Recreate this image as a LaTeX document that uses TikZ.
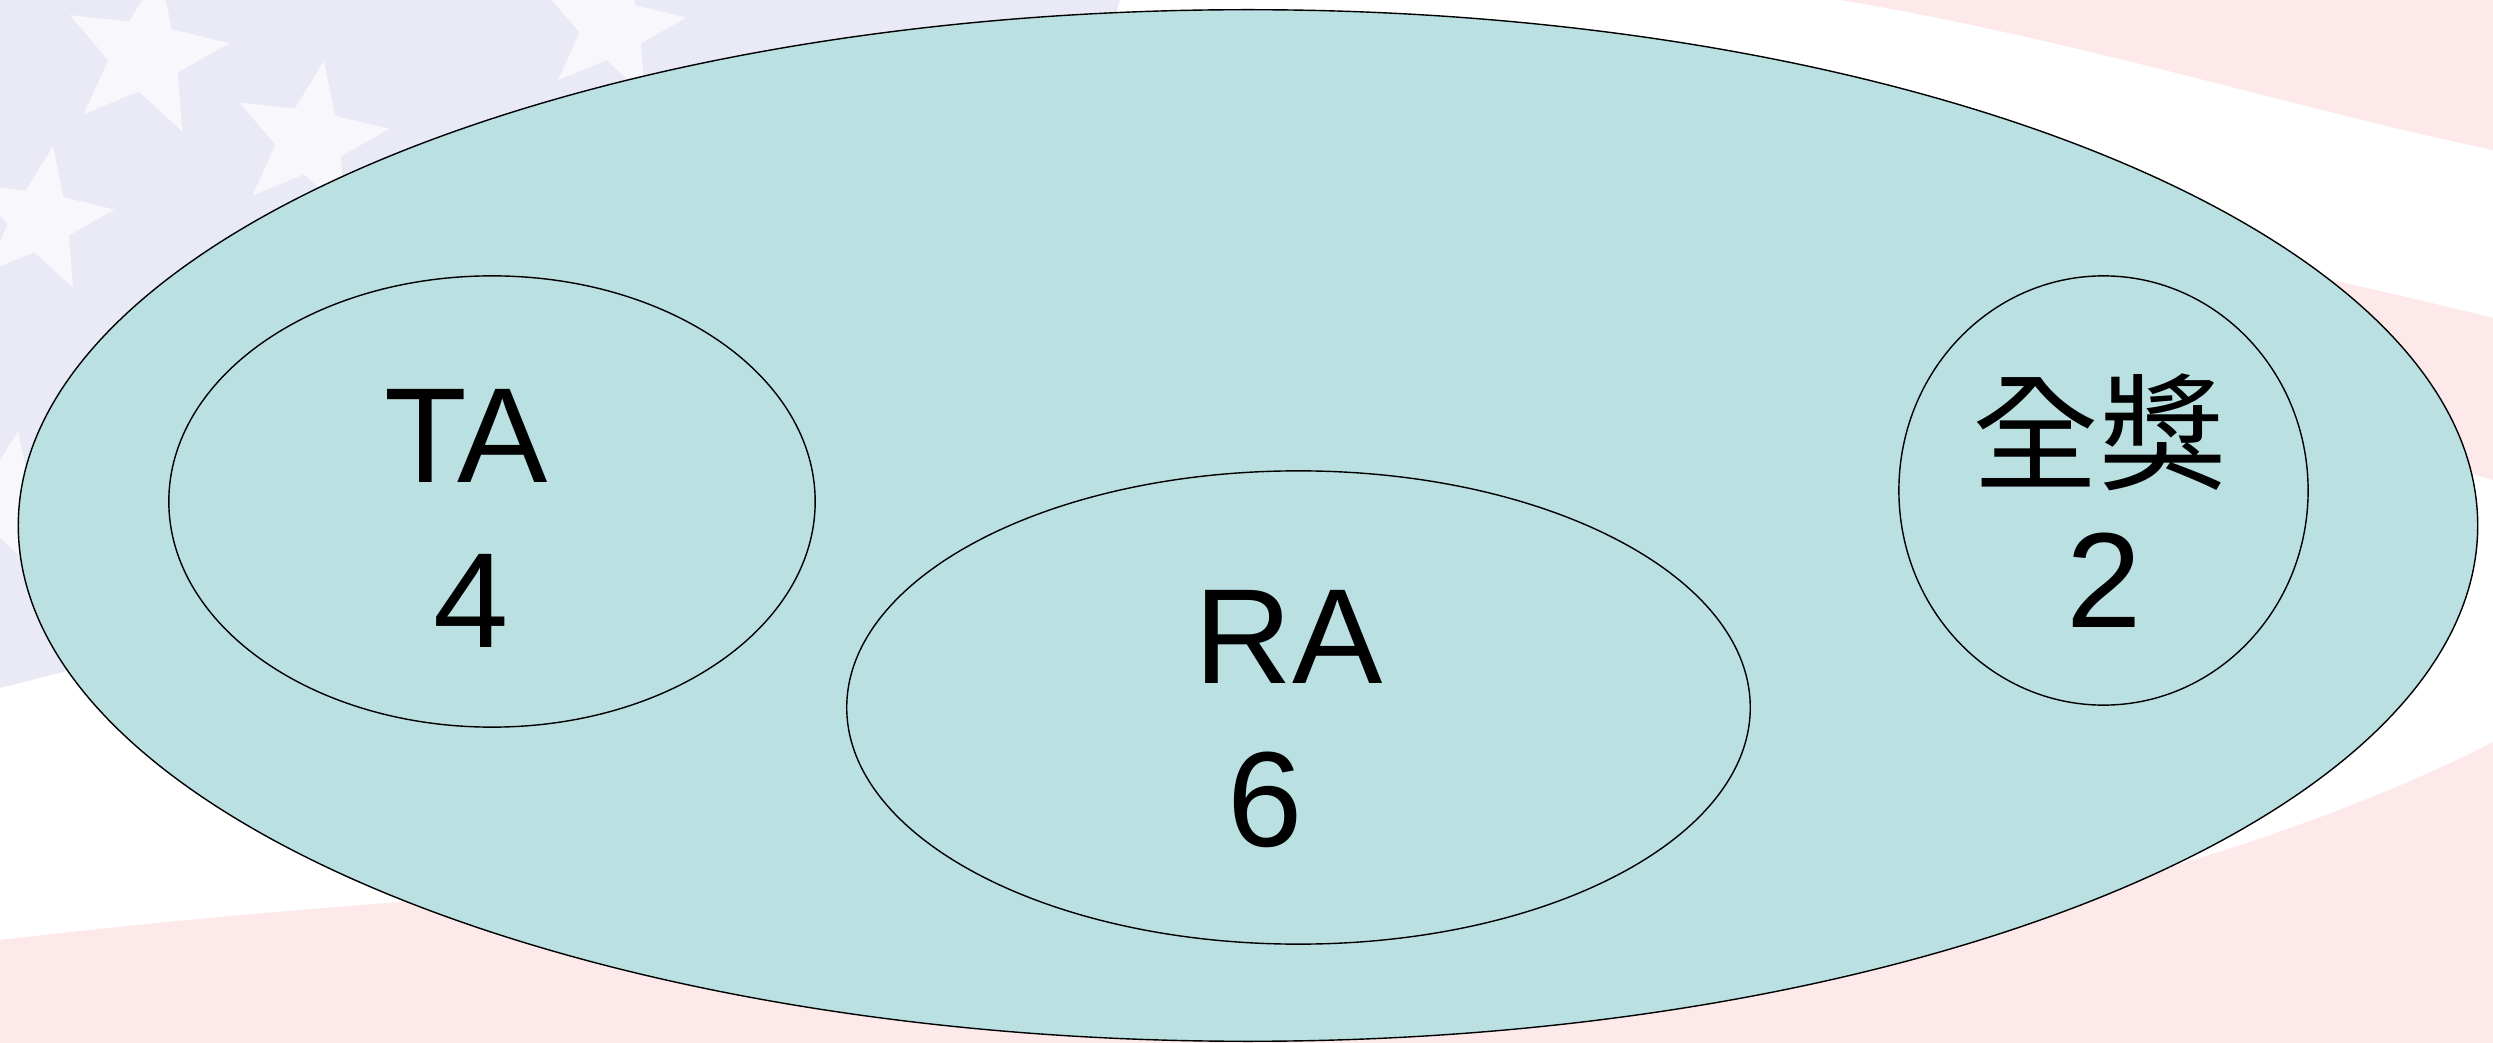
\documentclass[tikz,border=0pt]{standalone}
\usepackage{fontspec}
\setmainfont{Liberation Sans}
\newfontfamily\cjkfont{Noto Sans CJK TC}
\usetikzlibrary{shapes.geometric}
\definecolor{lav}{RGB}{234,234,246}
\definecolor{flagpink}{RGB}{253,233,234}
\definecolor{setfill}{RGB}{186,224,226}
\begin{document}
\begin{tikzpicture}[x=0.01cm, y=-0.01cm,
  setshape/.style={ellipse, draw=black, line width=0.4pt, fill=setfill, inner sep=0pt},
  txt/.style={font=\fontsize{38.5}{46}\selectfont, anchor=base, inner sep=0pt},
  flagstar/.style={star, star points=5, star point ratio=2.3, fill=white, opacity=0.7, inner sep=0pt, draw=none}]
\useasboundingbox (0,0) rectangle (2493,1043);
% faded flag background
\fill[white] (0,0) rectangle (2493,1043);
\fill[lav] (0,0) -- (1120,0) -- (1000,400) -- (300,600) .. controls (150,650) .. (0,688) -- cycle;
\fill[flagpink] (1840,0) .. controls (2080,40) and (2300,110) .. (2493,150) -- (2493,0) -- cycle;
\fill[flagpink] (2493,318) .. controls (2300,270) and (2100,230) .. (1900,200) -- (1900,330) .. controls (2150,380) and (2350,440) .. (2493,480) -- cycle;
\fill[flagpink] (0,940) .. controls (300,905) and (600,885) .. (900,878) -- (2050,900) .. controls (2250,850) and (2400,790) .. (2493,742) -- (2493,1043) -- (0,1043) -- cycle;
\node[flagstar, minimum size=1.7cm, rotate=-10] (st1) at (145,55) {};
\node[flagstar, minimum size=1.6cm, rotate=-10] (st2) at (310,140) {};
\node[flagstar, minimum size=1.5cm, rotate=-10] (st3) at (40,220) {};
\node[flagstar, minimum size=1.5cm, rotate=-10] (st4) at (5,505) {};
\node[flagstar, minimum size=1.5cm, rotate=-10] (st5) at (612,28) {};
% sets
\node[setshape, minimum width=24.58cm, minimum height=10.31cm] (all) at (1248,525.5) {};
\node[setshape, minimum width=6.46cm, minimum height=4.51cm] (ta) at (492,501.5) {};
\node[setshape, minimum width=9.03cm, minimum height=4.73cm] (ra) at (1298.5,707.5) {};
\node[setshape, minimum width=4.09cm, minimum height=4.29cm] (full) at (2103.5,490.5) {};
% labels
\node[txt] (taname) at (466,483) {TA};
\node[txt] (tanum) at (471,648) {4};
\node[txt] (raname) at (1289,683) {RA};
\node[txt] (ranum) at (1265,846) {6};
\node[txt, font=\cjkfont\fontsize{36}{43}\selectfont] (fullname) at (2099,481) {全獎};
\node[txt] (fullnum) at (2104,627) {2};
\end{tikzpicture}
\end{document}
